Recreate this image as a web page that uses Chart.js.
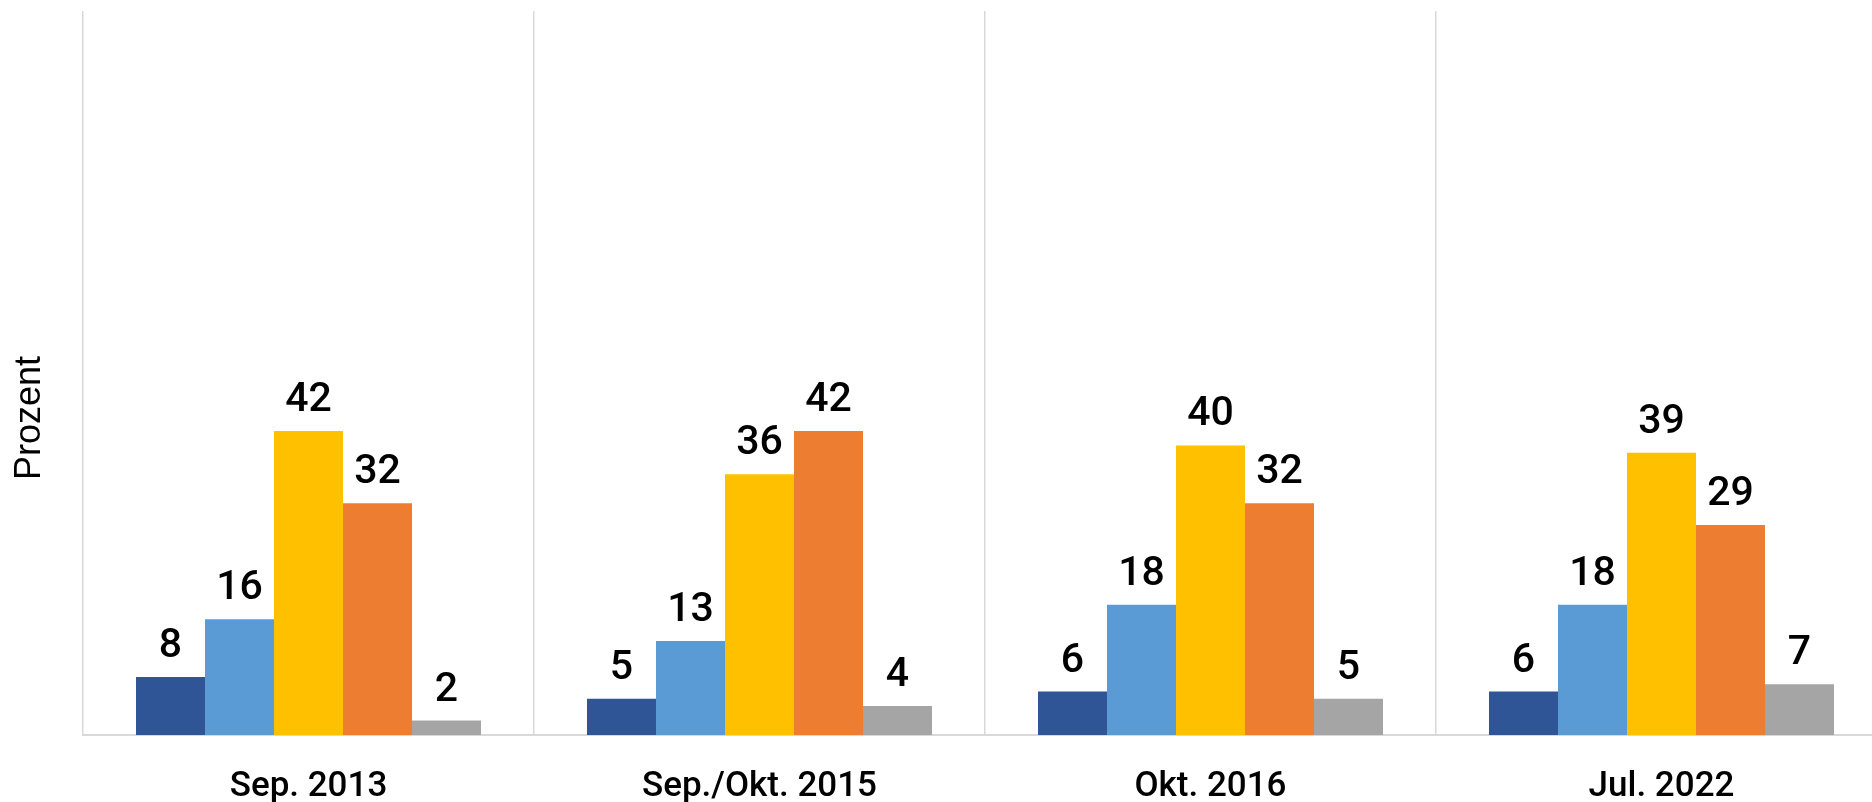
<!DOCTYPE html>
<html>
<head>
<meta charset="utf-8">
<script src="https://cdn.jsdelivr.net/npm/chart.js@4/dist/chart.umd.min.js"></script>
<style>
    body { margin: 0; overflow: hidden; background: #fff; }
    #wrap { width: 1888px; height: 802px; position: relative; }
</style>
</head>
<body>
<div id="wrap"><canvas id="umfrageChart"></canvas></div>
<script>
// Kategorien (Befragungszeitpunkte)
const zeitpunkte = ['Sep. 2013', 'Sep./Okt. 2015', 'Okt. 2016', 'Jul. 2022']
// Werte in Prozent, je Antwortkategorie
const reihe1 = [8, 5, 6, 6]
const reihe2 = [16, 13, 18, 18]
const reihe3 = [42, 36, 40, 39]
const reihe4 = [32, 42, 32, 29]
const reihe5 = [2, 4, 5, 7]
const reihenNamen = ['Reihe 1', 'Reihe 2', 'Reihe 3', 'Reihe 4', 'Reihe 5']
const farben = ['#2F5597', '#5B9BD5', '#FFC000', '#ED7D31', '#A5A5A5']
const yMax = 100

const schrift = 'Roboto, "DejaVu Sans Condensed", sans-serif'

// Zahlen über den Balken
const wertLabels = {
    id: 'wertLabels',
    afterDatasetsDraw(chart) {
        const ctx = chart.ctx
        ctx.save()
        ctx.font = '500 41px ' + schrift
        ctx.fillStyle = '#000'
        ctx.textAlign = 'center'
        ctx.textBaseline = 'alphabetic'
        chart.data.datasets.forEach((ds, i) => {
            chart.getDatasetMeta(i).data.forEach((bar, j) => {
                ctx.fillText(ds.data[j], bar.x, bar.y - 20)
            })
        })
        ctx.restore()
    }
}

// Achsentitel links
const achsenTitel = {
    id: 'achsenTitel',
    afterDraw(chart) {
        const ctx = chart.ctx
        const area = chart.chartArea
        ctx.save()
        ctx.translate(30, (area.top + area.bottom) / 2 + 45)
        ctx.rotate(-Math.PI / 2)
        ctx.font = '36px "Liberation Sans", sans-serif'
        ctx.fillStyle = '#000'
        ctx.textAlign = 'center'
        ctx.textBaseline = 'middle'
        ctx.fillText('Prozent', 0, 0)
        ctx.restore()
    }
}

const datasets = [reihe1, reihe2, reihe3, reihe4, reihe5].map((werte, i) => {
    return {
        label: reihenNamen[i],
        data: werte,
        backgroundColor: farben[i],
        borderWidth: 0,
        categoryPercentage: 0.765,
        barPercentage: 1
    }
})

const ctx = document.getElementById('umfrageChart').getContext('2d')
const umfrageChart = new Chart(ctx, {
    type: 'bar',
    data: {
        labels: zeitpunkte,
        datasets: datasets
    },
    options: {
        responsive: true,
        maintainAspectRatio: false,
        animation: false,
        layout: {
            padding: { top: 11, right: 1, left: 0, bottom: 0 }
        },
        plugins: {
            legend: { display: false },
            tooltip: { enabled: false }
        },
        scales: {
            x: {
                grid: {
                    display: true,
                    offset: true,
                    drawTicks: false,
                    color: '#d9d9d9',
                    lineWidth: 1.5
                },
                border: {
                    display: true,
                    color: '#d9d9d9',
                    width: 2
                },
                ticks: {
                    padding: 31,
                    color: '#000',
                    maxRotation: 0,
                    font: {
                        family: schrift,
                        size: 35,
                        weight: '500',
                        lineHeight: 1.2
                    }
                },
                afterFit(scale) {
                    scale.height = 67
                }
            },
            y: {
                min: 0,
                max: yMax,
                grid: { display: false },
                border: { display: false },
                ticks: { display: false },
                afterFit(scale) {
                    scale.width = 83
                }
            }
        }
    },
    plugins: [wertLabels, achsenTitel]
})
</script>
</body>
</html>
